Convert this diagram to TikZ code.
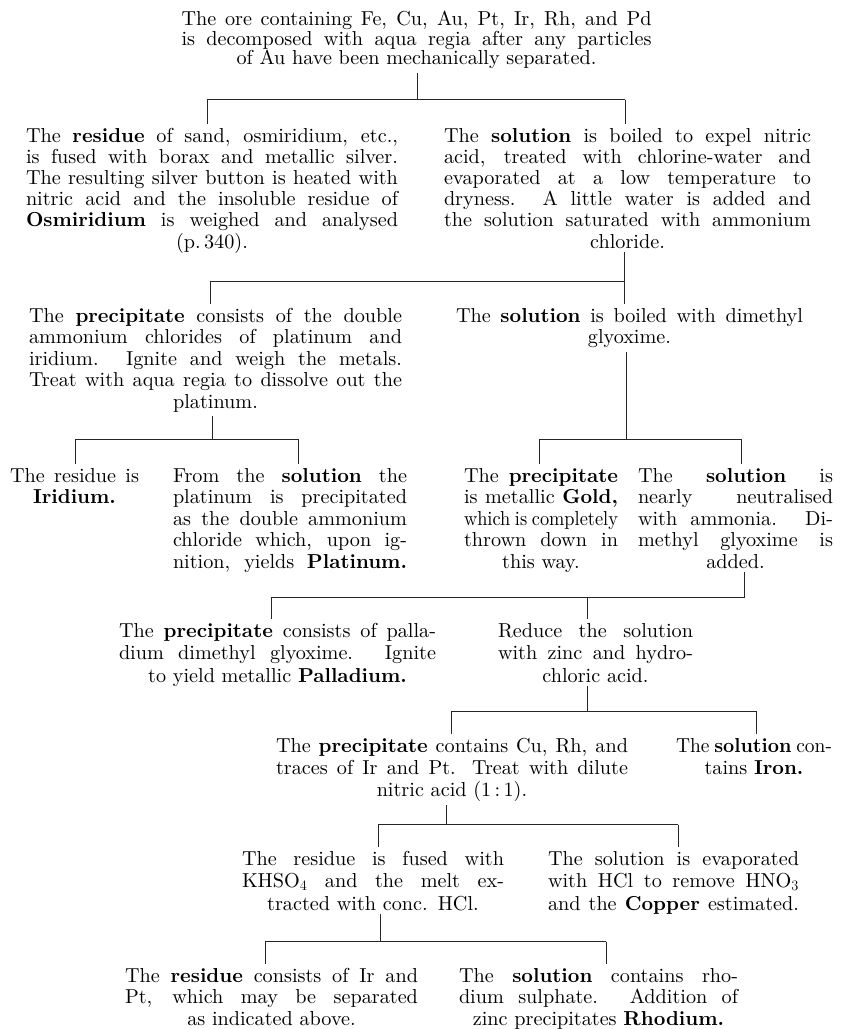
\documentclass[tikz,border=0pt]{standalone}
\usepackage{fontspec}
\setmainfont{lmroman10-regular.otf}[BoldFont=lmroman10-bold.otf, ItalicFont=lmroman10-italic.otf]
\usepackage{graphicx}
\newlength\jlw
\newcommand\jl[1]{%
  \settowidth\jlw{\spaceskip=0pt\xspaceskip=0pt #1}%
  \ifdim\jlw>\linewidth
    \settowidth\jlw{\spaceskip=.25em\xspaceskip=.25em #1}%
    \ifdim\jlw>\linewidth
      \pgfmathsetmacro\jlr{\linewidth/\jlw}%
      \scalebox{\jlr}[1]{\spaceskip=.25em\xspaceskip=.25em #1}%
    \else
      \makebox[\linewidth][s]{\spaceskip=.25em plus 1em\xspaceskip=.25em plus 1em #1}%
    \fi
  \else
    \makebox[\linewidth][s]{\spaceskip=0pt\xspaceskip=0pt #1}%
  \fi}
\newcommand\fs[1]{\fontsize{20.2pt}{#1}\selectfont}
\tikzset{
  blk/.style={inner sep=0pt, outer sep=4pt, align=center, anchor=base},
  ln/.style={line width=0.7pt, black!85},
}
\begin{document}
\begin{tikzpicture}
\useasboundingbox (0,0) rectangle (842pt,-1029pt);
\fill[white] (0,0) rectangle (842pt,-1029pt);

% ---------- text blocks ----------
\node[blk, text width=470pt, font=\fs{19.7pt}] (ore) at (416.5pt,-25.5pt) {%
\jl{The ore containing Fe, Cu, Au, Pt, Ir, Rh, and Pd}\\
\jl{is decomposed with aqua regia after any particles}\\
of Au have been mechanically separated.\hspace*{12pt}};

\node[blk, text width=372pt, font=\fs{21.2pt}] (res1) at (212pt,-142pt) {%
\jl{The \textbf{residue} of sand, osmiridium, etc.,}\\
\jl{is fused with borax and metallic silver.}\\
\jl{The resulting silver button is heated with}\\
\jl{nitric acid and the insoluble residue of}\\
\jl{\textbf{Osmiridium} is weighed and analysed}\\
(p.\,340).};

\node[blk, text width=367pt, font=\fs{21.2pt}] (sol1) at (627.5pt,-142pt) {%
\jl{The \textbf{solution} is boiled to expel nitric}\\
\jl{acid, treated with chlorine-water and}\\
\jl{evaporated at a low temperature to}\\
\jl{dryness.  A little water is added and}\\
\jl{the solution saturated with ammonium}\\
chloride.};

\node[blk, text width=373pt, font=\fs{21.6pt}] (pre2) at (215.5pt,-322pt) {%
\jl{The \textbf{precipitate} consists of the double}\\
\jl{ammonium chlorides of platinum and}\\
\jl{iridium.  Ignite and weigh the metals.}\\
\jl{Treat with aqua regia to dissolve out the}\\
platinum.};

\node[blk, text width=347pt, font=\fs{21.6pt}] (sol2) at (629.5pt,-322pt) {%
\jl{The \textbf{solution} is boiled with dimethyl}\\
glyoxime.\hspace*{9pt}};

\node[blk, text width=129pt, font=\fs{21.5pt}] (irid) at (74.5pt,-482pt) {%
\jl{The residue is}\\
\textbf{Iridium.}};

\node[blk, text width=234pt, font=\fs{21.5pt}] (plat) at (290pt,-482pt) {%
\jl{From the \textbf{solution} the}\\
\jl{platinum is precipitated}\\
\jl{as the double ammonium}\\
\jl{chloride which, upon ig-}\\
\jl{nition, yields \textbf{Platinum.}}};

\node[blk, text width=154pt, font=\fs{21.5pt}] (gold) at (541pt,-482pt) {%
\jl{The \textbf{precipitate}}\\
\jl{is metallic \textbf{Gold,}}\\
\jl{which is completely}\\
\jl{thrown down in}\\
this way.};

\node[blk, text width=195pt, font=\fs{21.5pt}] (neut) at (735.5pt,-482pt) {%
\jl{The \textbf{solution} is}\\
\jl{nearly neutralised}\\
\jl{with ammonia. Di-}\\
\jl{methyl glyoxime is}\\
added.};

\node[blk, text width=317pt, font=\fs{22.5pt}] (pall) at (277.5pt,-637pt) {%
\jl{The \textbf{precipitate} consists of palla-}\\
\jl{dium dimethyl glyoxime.  Ignite}\\
to yield metallic \textbf{Palladium.}};

\node[blk, text width=195pt, font=\fs{22.5pt}] (redu) at (595.5pt,-637pt) {%
\jl{Reduce the solution}\\
\jl{with zinc and hydro-}\\
chloric acid.\hspace*{12pt}};

\node[blk, text width=352pt, font=\fs{22.2pt}] (curh) at (452pt,-752pt) {%
\jl{The \textbf{precipitate} contains Cu, Rh, and}\\
\jl{traces of Ir and Pt.  Treat with dilute}\\
nitric acid (1\,:\,1).};

\node[blk, text width=156pt, font=\fs{22.2pt}] (iron) at (754pt,-752pt) {%
\jl{The \textbf{solution} con-}\\
tains \textbf{Iron.}};

\node[blk, text width=262pt, font=\fs{22.5pt}] (khso) at (373pt,-865pt) {%
\jl{The residue is fused with}\\
\jl{KHSO$_4$ and the melt ex-}\\
tracted with conc. HCl.};

\node[blk, text width=251pt, font=\fs{22.5pt}] (copp) at (673.5pt,-865pt) {%
\jl{The solution is evaporated}\\
\jl{with HCl to remove HNO$_3$}\\
\jl{and the \textbf{Copper} estimated.}};

\node[blk, text width=293pt, font=\fs{21.5pt}] (irpt) at (271.5pt,-982pt) {%
\jl{The \textbf{residue} consists of Ir and}\\
\jl{Pt, which may be separated}\\
as indicated above.};

\node[blk, text width=279pt, font=\fs{21.5pt}] (rhod) at (598.5pt,-982pt) {%
\jl{The \textbf{solution} contains rho-}\\
\jl{dium sulphate.  Addition of}\\
zinc precipitates \textbf{Rhodium.}};

% ---------- connectors ----------
% split A
\coordinate (jA) at (417pt,-99.5pt);
\coordinate (aL) at (207pt,-99.5pt);
\coordinate (aR) at (625pt,-99.5pt);
\draw[ln] (ore.south -| jA) -- (jA);
\draw[ln] (aL) -- (aR);
\draw[ln] (aL) -- (res1.north -| aL);
\draw[ln] (aR) -- (sol1.north -| aR);
% split B
\coordinate (jB) at (624pt,-281pt);
\coordinate (bL) at (210pt,-281pt);
\draw[ln] (sol1.south -| jB) -- (jB);
\draw[ln] (bL) -- (jB);
\draw[ln] (bL) -- (pre2.north -| bL);
\draw[ln] (jB) -- (sol2.north -| jB);
% split C
\coordinate (jC) at (212pt,-439pt);
\coordinate (cL) at (75pt,-439pt);
\coordinate (cR) at (298pt,-439pt);
\draw[ln] (pre2.south -| jC) -- (jC);
\draw[ln] (cL) -- (cR);
\draw[ln] (cL) -- (irid.north -| cL);
\draw[ln] (cR) -- (plat.north -| cR);
% split D
\coordinate (jD) at (626pt,-439pt);
\coordinate (dL) at (539pt,-439pt);
\coordinate (dR) at (741pt,-439pt);
\draw[ln] (sol2.south -| jD) -- (jD);
\draw[ln] (dL) -- (dR);
\draw[ln] (dL) -- (gold.north -| dL);
\draw[ln] (dR) -- (neut.north -| dR);
% split E
\coordinate (jE) at (744pt,-597.5pt);
\coordinate (eL) at (271pt,-597.5pt);
\coordinate (eR) at (587pt,-597.5pt);
\draw[ln] (neut.south -| jE) -- (jE);
\draw[ln] (eL) -- (jE);
\draw[ln] (eL) -- (pall.north -| eL);
\draw[ln] (eR) -- (redu.north -| eR);
% split F
\coordinate (jF) at (587pt,-711pt);
\coordinate (fL) at (451pt,-711pt);
\coordinate (fR) at (756pt,-711pt);
\draw[ln] (redu.south -| jF) -- (jF);
\draw[ln] (fL) -- (fR);
\draw[ln] (fL) -- (curh.north -| fL);
\draw[ln] (fR) -- (iron.north -| fR);
% split G
\coordinate (jG) at (446pt,-824.5pt);
\coordinate (gL) at (378pt,-824.5pt);
\coordinate (gR) at (678pt,-824.5pt);
\draw[ln] (curh.south -| jG) -- (jG);
\draw[ln] (gL) -- (gR);
\draw[ln] (gL) -- (khso.north -| gL);
\draw[ln] (gR) -- (copp.north -| gR);
% split H
\coordinate (jH) at (380pt,-941.5pt);
\coordinate (hL) at (265pt,-941.5pt);
\coordinate (hR) at (606pt,-941.5pt);
\draw[ln] (khso.south -| jH) -- (jH);
\draw[ln] (hL) -- (hR);
\draw[ln] (hL) -- (irpt.north -| hL);
\draw[ln] (hR) -- (rhod.north -| hR);
\end{tikzpicture}
\end{document}
